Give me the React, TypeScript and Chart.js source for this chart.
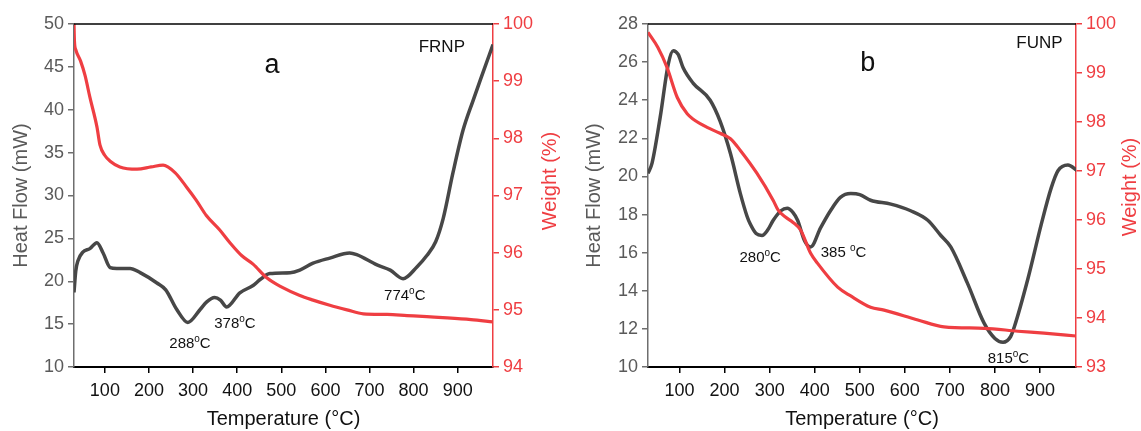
import React, { useEffect, useRef } from "react";
import { Chart, registerables } from "chart.js";

Chart.register(...registerables);

// ---------- data ----------
const xTickValues = [100, 200, 300, 400, 500, 600, 700, 800, 900];

// Panel a (FRNP)
const heatTempA = [30, 34, 39, 50, 66, 82, 96, 112, 127, 157, 180, 218, 238, 263, 288, 316, 331, 349, 362, 376, 406, 436, 452, 474, 520, 542, 572, 610, 655, 671, 717, 747, 776, 808, 830, 850, 867, 889, 912, 935, 957, 980];
const heatA = [18.7, 21.2, 22.4, 23.4, 23.8, 24.5, 23.3, 21.6, 21.5, 21.5, 21.0, 19.8, 19.0, 16.7, 15.2, 16.7, 17.6, 18.1, 17.8, 17.0, 18.65, 19.5, 20.2, 20.9, 21.0, 21.3, 22.1, 22.7, 23.3, 23.1, 21.9, 21.3, 20.3, 21.7, 23.0, 24.6, 27.3, 32.6, 37.6, 41.1, 44.3, 47.6];
const weightTempA = [30, 31, 34, 45, 55, 66, 82, 89, 100, 112, 134, 173, 205, 232, 259, 285, 307, 330, 360, 384, 410, 436, 467, 500, 542, 572, 610, 649, 686, 740, 785, 830, 876, 930, 980];
const weightA = [100, 99.7, 99.55, 99.35, 99.1, 98.72, 98.2, 97.88, 97.7, 97.6, 97.5, 97.46, 97.5, 97.53, 97.4, 97.15, 96.92, 96.65, 96.4, 96.17, 95.95, 95.8, 95.56, 95.4, 95.25, 95.17, 95.08, 95.0, 94.93, 94.92, 94.9, 94.88, 94.86, 94.83, 94.79];
const peakTextA = ["288", "378", "774"];

// Panel b (FUNP)
const heatTempB = [30, 39, 57, 75, 86, 97, 108, 130, 168, 190, 213, 235, 250, 257, 270, 283, 296, 308, 325, 339, 352, 362, 378, 391, 413, 435, 457, 480, 500, 524, 569, 613, 651, 680, 702, 739, 776, 800, 818, 835, 843, 874, 903, 925, 940, 962, 983];
const heatB = [20.16, 20.7, 23.1, 25.9, 26.6, 26.4, 25.7, 24.9, 24.0, 22.9, 21.2, 19.1, 17.9, 17.5, 17.0, 16.9, 17.2, 17.7, 18.2, 18.33, 18.1, 17.7, 16.6, 16.3, 17.3, 18.2, 18.9, 19.1, 19.05, 18.75, 18.55, 18.2, 17.7, 16.9, 16.3, 14.4, 12.3, 11.5, 11.3, 11.6, 12.1, 14.7, 17.5, 19.4, 20.3, 20.6, 20.3];
const weightTempB = [30, 52, 72, 95, 117, 153, 190, 213, 235, 272, 308, 319, 335, 352, 369, 391, 406, 451, 480, 524, 554, 629, 687, 776, 851, 909, 983];
const weightB = [99.83, 99.52, 99.12, 98.5, 98.17, 97.93, 97.77, 97.66, 97.42, 96.95, 96.4, 96.2, 96.06, 95.95, 95.79, 95.32, 95.12, 94.63, 94.45, 94.22, 94.16, 93.96, 93.82, 93.79, 93.73, 93.69, 93.63];
const peakTextB = ["280", "385 ", "815"];

// ---------- styling ----------
const FONT = "'Liberation Sans', Arial, sans-serif";
const DARK = "#474747";
const RED = "#ef3e42";
const GRAY_TXT = "#5a5a5a";

const toPts = (xs: number[], ys: number[]) => xs.map((x, i) => ({ x, y: ys[i] }));

type Label = { text: string; t: number; v: number };

const overlayPlugin = {
  id: "overlay",
  afterDraw(chart: any, _args: any, opts: any) {
    const { ctx, chartArea, scales } = chart;
    ctx.save();
    // top frame line
    ctx.strokeStyle = "#000";
    ctx.lineWidth = 1.5;
    ctx.beginPath();
    ctx.moveTo(chartArea.left, chartArea.top);
    ctx.lineTo(chartArea.right, chartArea.top);
    ctx.stroke();

    ctx.fillStyle = "#111";
    ctx.textAlign = "center";
    ctx.textBaseline = "middle";
    // panel letter
    ctx.font = `27px ${FONT}`;
    ctx.fillText(opts.letter.text, scales.x.getPixelForValue(opts.letter.t), scales.y.getPixelForValue(opts.letter.v));
    // sample name
    ctx.font = `17px ${FONT}`;
    ctx.fillText(opts.sample.text, scales.x.getPixelForValue(opts.sample.t), scales.y.getPixelForValue(opts.sample.v));

    // peak labels with superscript o
    ctx.textAlign = "left";
    ctx.textBaseline = "alphabetic";
    for (const p of opts.peaks as Label[]) {
      const cx = scales.x.getPixelForValue(p.t);
      const cy = scales.y.getPixelForValue(p.v);
      ctx.font = `15px ${FONT}`;
      const wNum = ctx.measureText(p.text).width;
      const wC = ctx.measureText("C").width;
      ctx.font = `10px ${FONT}`;
      const wO = ctx.measureText("o").width;
      const total = wNum + wO + wC;
      let x = cx - total / 2;
      const base = cy + 5.5;
      ctx.font = `15px ${FONT}`;
      ctx.fillText(p.text, x, base);
      x += wNum;
      ctx.font = `10px ${FONT}`;
      ctx.fillText("o", x, base - 6);
      x += wO;
      ctx.font = `15px ${FONT}`;
      ctx.fillText("C", x, base);
    }

    // right axis title (reads bottom-to-top)
    ctx.fillStyle = RED;
    ctx.font = `20px ${FONT}`;
    ctx.textAlign = "center";
    ctx.textBaseline = "middle";
    ctx.translate(opts.rightTitleX, opts.rightTitleY);
    ctx.rotate(-Math.PI / 2);
    ctx.fillText("Weight (%)", 0, 0);
    ctx.restore();
  },
};

type PanelCfg = {
  left: number;
  width: number;
  heat: { x: number; y: number }[];
  weight: { x: number; y: number }[];
  yMin: number;
  yMax: number;
  yStep: number;
  y1Min: number;
  y1Max: number;
  leftW: number;
  rightW: number;
  leftTitlePad: number;
  rightTitleX: number;
  rightTitleY: number;
  letter: Label;
  sample: Label;
  peaks: Label[];
};

const panelA: PanelCfg = {
  left: 0,
  width: 570,
  heat: toPts(heatTempA, heatA),
  weight: toPts(weightTempA, weightA),
  yMin: 10,
  yMax: 50,
  yStep: 5,
  y1Min: 94,
  y1Max: 100,
  leftW: 74,
  rightW: 77,
  leftTitlePad: 9,
  rightTitleX: 550,
  rightTitleY: 181,
  letter: { text: "a", t: 479, v: 45.2 },
  sample: { text: "FRNP", t: 864, v: 47.3 },
  peaks: [
    { text: peakTextA[0], t: 293, v: 12.8 },
    { text: peakTextA[1], t: 395, v: 15.15 },
    { text: peakTextA[2], t: 780, v: 18.4 },
  ],
};

const panelB: PanelCfg = {
  left: 570,
  width: 571,
  heat: toPts(heatTempB, heatB),
  weight: toPts(weightTempB, weightB),
  yMin: 10,
  yMax: 28,
  yStep: 2,
  y1Min: 93,
  y1Max: 100,
  leftW: 78,
  rightW: 65,
  leftTitlePad: 12,
  rightTitleX: 560,
  rightTitleY: 187,
  letter: { text: "b", t: 518, v: 25.93 },
  sample: { text: "FUNP", t: 899, v: 26.98 },
  peaks: [
    { text: peakTextB[0], t: 279, v: 15.8 },
    { text: peakTextB[1], t: 464, v: 16.08 },
    { text: peakTextB[2], t: 830, v: 10.52 },
  ],
};

function Panel({ cfg }: { cfg: PanelCfg }) {
  const ref = useRef<HTMLCanvasElement | null>(null);
  useEffect(() => {
    if (!ref.current) return;
    const chart = new Chart(ref.current, {
      type: "line",
      data: {
        datasets: [
          {
            data: cfg.weight,
            yAxisID: "y1",
            borderColor: RED,
            borderWidth: 3.2,
            pointRadius: 0,
            cubicInterpolationMode: "monotone",
            fill: false,
          },
          {
            data: cfg.heat,
            yAxisID: "y",
            borderColor: DARK,
            borderWidth: 3.5,
            pointRadius: 0,
            cubicInterpolationMode: "monotone",
            fill: false,
          },
        ],
      },
      options: {
        responsive: false,
        animation: false,
        events: [],
        layout: { padding: { top: 24, left: 0, right: 0, bottom: 0 } },
        plugins: {
          legend: { display: false },
          tooltip: { enabled: false },
          overlay: {
            letter: cfg.letter,
            sample: cfg.sample,
            peaks: cfg.peaks,
            rightTitleX: cfg.rightTitleX,
            rightTitleY: cfg.rightTitleY,
          },
        } as any,
        scales: {
          x: {
            type: "linear",
            min: 30,
            max: 980,
            afterBuildTicks: (s: any) => {
              s.ticks = xTickValues.map((v) => ({ value: v }));
            },
            afterFit: (s: any) => {
              s.height = 64;
            },
            border: { color: "#000", width: 2 },
            grid: { drawOnChartArea: false, drawTicks: true, tickLength: 6, tickColor: "#000", lineWidth: 1.5 },
            ticks: { color: "#111", font: { size: 18, family: FONT }, padding: 7, maxRotation: 0 },
            title: {
              display: true,
              text: "Temperature (°C)",
              color: "#111",
              font: { size: 20, family: FONT },
              padding: { top: 0, bottom: 0 },
            },
          },
          y: {
            type: "linear",
            position: "left",
            min: cfg.yMin,
            max: cfg.yMax,
            ticks: { stepSize: cfg.yStep, color: GRAY_TXT, font: { size: 18, family: FONT }, padding: 4 },
            afterFit: (s: any) => {
              s.width = cfg.leftW;
            },
            border: { color: "#6e6e6e", width: 1.5 },
            grid: { drawOnChartArea: false, drawTicks: true, tickLength: 6, tickColor: "#6e6e6e", lineWidth: 1.5 },
            title: {
              display: true,
              text: "Heat Flow (mW)",
              color: GRAY_TXT,
              font: { size: 20, family: FONT },
              padding: { top: cfg.leftTitlePad, bottom: 0 },
            },
          },
          y1: {
            type: "linear",
            position: "right",
            min: cfg.y1Min,
            max: cfg.y1Max,
            ticks: { stepSize: 1, color: RED, font: { size: 18, family: FONT }, padding: 4 },
            afterFit: (s: any) => {
              s.width = cfg.rightW;
            },
            border: { color: RED, width: 1.5 },
            grid: { drawOnChartArea: false, drawTicks: true, tickLength: 6, tickColor: RED, lineWidth: 1.5 },
          },
        },
      },
      plugins: [overlayPlugin as any],
    });
    return () => chart.destroy();
  }, [cfg]);

  return (
    <canvas
      ref={ref}
      width={cfg.width}
      height={431}
      style={{ position: "absolute", left: cfg.left, top: 0, width: cfg.width, height: 431 }}
    />
  );
}

export default function App() {
  return (
    <div style={{ position: "absolute", left: 0, top: 0, width: 1141, height: 431, background: "#fff" }}>
      <Panel cfg={panelA} />
      <Panel cfg={panelB} />
    </div>
  );
}
